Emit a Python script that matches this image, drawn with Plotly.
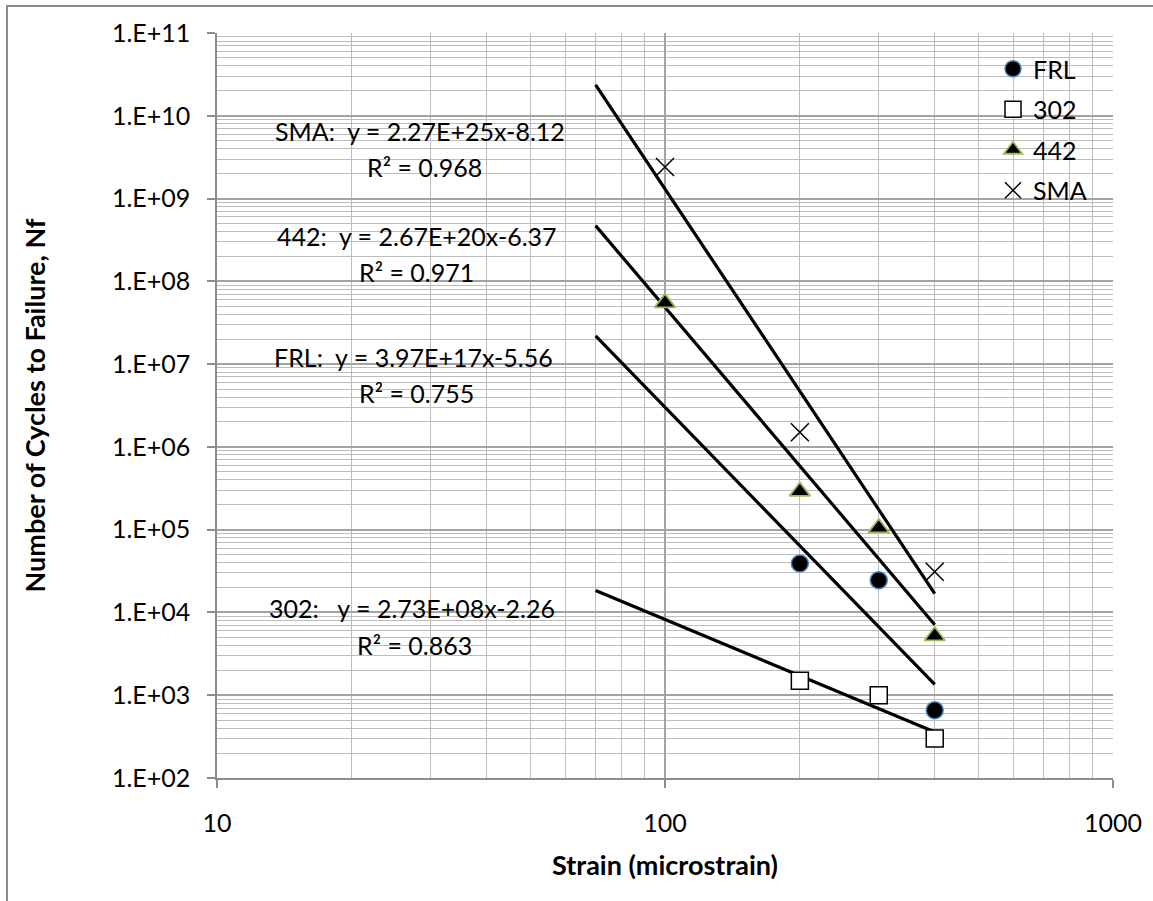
import numpy as np
import plotly.graph_objects as go

# ---- measured fatigue data (strain in microstrain, cycles to failure) ----
frl_strain = [200, 300, 400]
frl_cycles = [39000, 24500, 660]

s302_strain = [200, 300, 400]
s302_cycles = [1500, 1000, 300]

s442_strain = [100, 200, 300, 400]
s442_cycles = [5.5e7, 2.9e5, 1.05e5, 5200]

sma_strain = [100, 200, 400]
sma_cycles = [2.4e9, 1.5e6, 31000]

# ---- power-law fits  Nf = a * strain^b ----
fit_names = ["SMA", "442", "FRL", "302"]
fit_a = [2.27e25, 2.67e20, 3.97e17, 2.73e8]
fit_b = [-8.12, -6.37, -5.56, -2.26]
fit_r2 = [0.968, 0.971, 0.755, 0.863]
fit_strain_range = [70, 400]

# ---- axis ticks ----
y_tickvals = [10.0 ** k for k in range(2, 12)]
y_ticktext = ["1.E+%02d" % k for k in range(2, 12)]
x_tickvals = [10, 100, 1000]
x_ticktext = ["10", "100", "1000"]

FONT = "Lato, Calibri, sans-serif"
FS = 25
FS_TITLE = 27

fig = go.Figure()

# trendlines
for name, a, b in zip(fit_names, fit_a, fit_b):
    xs = np.array(fit_strain_range, dtype=float)
    fig.add_trace(go.Scatter(
        x=xs, y=a * xs ** b, mode="lines",
        line=dict(color="black", width=3.2),
        showlegend=False, hoverinfo="skip",
    ))

# data series
fig.add_trace(go.Scatter(
    x=frl_strain, y=frl_cycles, mode="markers", name="FRL", legendgroup="a",
    marker=dict(symbol="circle", size=17, color="black",
                line=dict(color="#4F81BD", width=1.5)),
))
fig.add_trace(go.Scatter(
    x=s302_strain, y=s302_cycles, mode="markers", name="302", legendgroup="b",
    marker=dict(symbol="square", size=17, color="white",
                line=dict(color="black", width=1.5)),
))
fig.add_trace(go.Scatter(
    x=s442_strain, y=s442_cycles, mode="markers", name="442", legendgroup="c",
    marker=dict(symbol="triangle-up", size=18, color="black",
                line=dict(color="#9BBB59", width=1.8)),
))
fig.add_trace(go.Scatter(
    x=sma_strain, y=sma_cycles, mode="markers", name="SMA", legendgroup="d",
    marker=dict(symbol="x-thin", size=18, color="black",
                line=dict(color="black", width=1.5)),
))

# plot area in pixels: left 217, right 1113, top 33, bottom 778
L, R, T, B = 217, 1113, 33, 778


def px_x(p):
    return (p - L) / (R - L)


def px_y(p):
    return (B - p) / (B - T)


# equation labels (left edge of equation line, its centre line, R² left edge and centre line)
eq_layout = {
    "SMA": (273, 131, 365, 167),
    "442": (275, 236, 357, 272),
    "FRL": (272, 357, 357, 393),
    "302": (267, 608, 355, 645),
}
eq_prefix = {"SMA": "SMA:  ", "442": "442:  ", "FRL": "FRL:  ", "302": "302:   "}
for name, a, b, r2 in zip(fit_names, fit_a, fit_b, fit_r2):
    mant, expo = ("%.2E" % a).split("E")
    eq_text = "%sy = %sE+%sx%.2f" % (eq_prefix[name], mant, expo.lstrip("+"), b)
    x_eq, y_eq, x_r2, y_r2 = eq_layout[name]
    fig.add_annotation(x=px_x(x_eq), y=px_y(y_eq), xref="paper", yref="paper",
                       text=eq_text.replace(" ", "&nbsp;"), showarrow=False,
                       xanchor="left", yanchor="middle",
                       font=dict(family=FONT, size=FS, color="black"))
    fig.add_annotation(x=px_x(x_r2), y=px_y(y_r2), xref="paper", yref="paper",
                       text="R² = %.3f" % r2, showarrow=False, xanchor="left", yanchor="middle",
                       font=dict(family=FONT, size=FS, color="black"))

# outer chart border
fig.add_shape(type="rect", xref="paper", yref="paper",
              x0=px_x(7), x1=px_x(1170), y0=px_y(920), y1=px_y(6),
              line=dict(color="#8C8C8C", width=2), fillcolor="rgba(0,0,0,0)", layer="below")

axis_common = dict(
    type="log", showline=True, linecolor="#8C8C8C", linewidth=1.5,
    ticks="outside", ticklen=8, tickcolor="#8C8C8C", tickwidth=1.5,
    showgrid=True, gridcolor="#A3A3A3", gridwidth=1.5,
    tickfont=dict(family=FONT, size=FS, color="black"),
    zeroline=False, mirror=False,
    minor=dict(dtick="D1", showgrid=True, gridcolor="#BDBDBD", gridwidth=1.4, ticks=""),
)

fig.update_layout(
    width=1153, height=901,
    margin=dict(l=L, r=1153 - R, t=T, b=901 - B),
    paper_bgcolor="white", plot_bgcolor="white",
    font=dict(family=FONT, color="black"),
    xaxis=dict(axis_common, range=[1, 3], tickvals=x_tickvals, ticktext=x_ticktext,
               ticklabelstandoff=14,
               title=dict(text="<b>Strain (microstrain)</b>", standoff=20,
                          font=dict(family=FONT, size=FS_TITLE, color="black"))),
    yaxis=dict(axis_common, range=[2, 11], tickvals=y_tickvals, ticktext=y_ticktext,
               ticklabelstandoff=12,
               title=dict(text="<b>Number of Cycles to Failure, Nf</b>", standoff=58,
                          font=dict(family=FONT, size=FS_TITLE, color="black"))),
    legend=dict(x=px_x(993), y=px_y(46), xanchor="left", yanchor="top",
                bgcolor="rgba(0,0,0,0)", font=dict(family=FONT, size=FS, color="black"),
                traceorder="grouped", tracegroupgap=5, itemwidth=30),
    showlegend=True,
)

fig.write_html("out.html")
